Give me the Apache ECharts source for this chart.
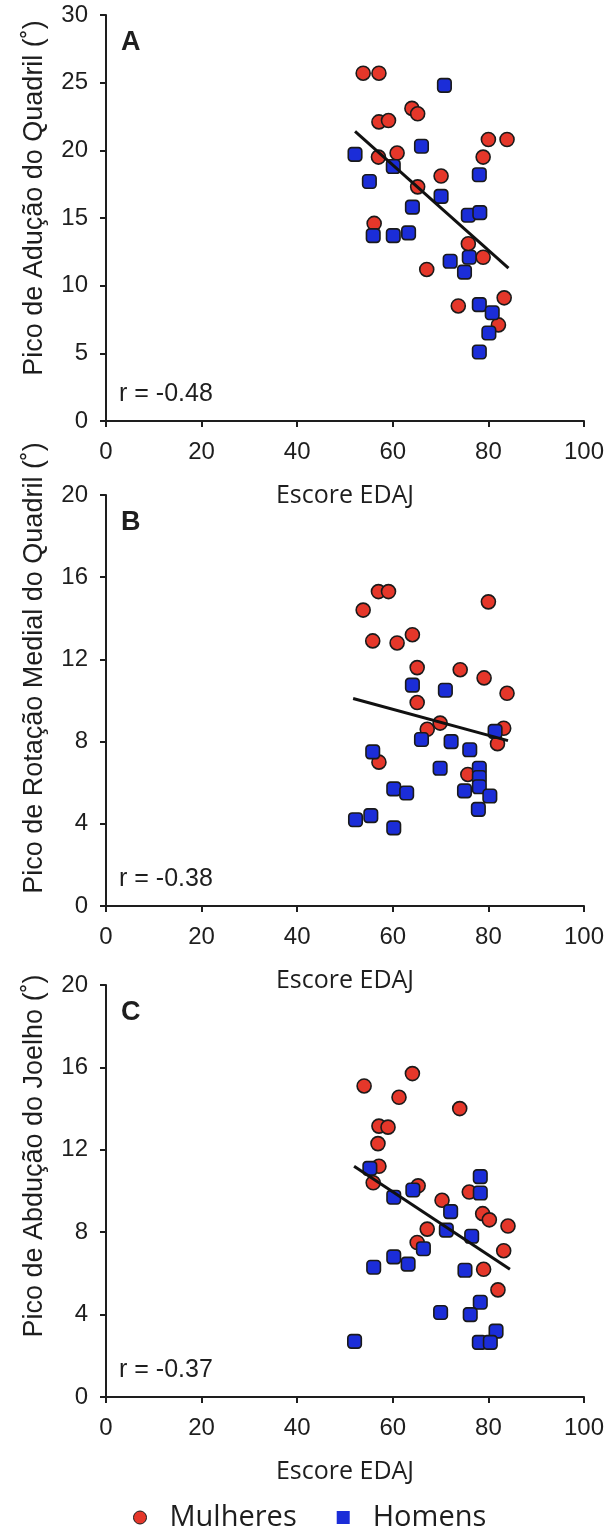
<!DOCTYPE html>
<html>
<head>
<meta charset="utf-8">
<script src="https://cdn.jsdelivr.net/npm/echarts@6/dist/echarts.min.js"></script>
<style>
  html, body { margin: 0; padding: 0; background: #ffffff; }
  #chart { width: 608px; height: 1533px; }
</style>
</head>
<body>
<div id="chart"></div>
<script>
// ---- data ----
const xTicks = [0, 20, 40, 60, 80, 100];
const yTicksA = [0, 5, 10, 15, 20, 25, 30];
const yTicksB = [0, 4, 8, 12, 16, 20];
const yTicksC = [0, 4, 8, 12, 16, 20];

const seriesNames = ['Mulheres', 'Homens'];
const panelLetters = ['A', 'B', 'C'];
const rLabels = ['r = -0.48', 'r = -0.38', 'r = -0.37'];
const yTitles = ['Pico de Adução do Quadril (˚)', 'Pico de Rotação Medial do Quadril (˚)', 'Pico de Abdução do Joelho (˚)'];
const xTitle = 'Escore EDAJ';

const womenA = [[53.8,25.7],[57.1,25.7],[57.1,22.1],[59.1,22.2],[64.0,23.1],[65.2,22.7],[80.0,20.8],[83.9,20.8],[57.0,19.5],[60.9,19.8],[78.9,19.5],[70.1,18.1],[65.2,17.3],[56.1,14.6],[75.8,13.1],[78.9,12.1],[67.1,11.2],[73.7,8.5],[83.3,9.1],[82.1,7.1]];
const menA = [[70.8,24.8],[66.0,20.3],[52.1,19.7],[60.1,18.8],[55.1,17.7],[78.1,18.2],[70.1,16.6],[64.1,15.8],[75.8,15.2],[78.2,15.4],[55.9,13.7],[60.1,13.7],[63.3,13.9],[72.0,11.8],[76.0,12.1],[75.0,11.0],[78.1,8.6],[80.8,8.0],[80.1,6.5],[78.1,5.1]];
const trendA = [[52.1,21.4],[84.2,11.3]];

const womenB = [[57.0,15.3],[59.1,15.3],[53.8,14.4],[80.0,14.8],[55.8,12.9],[60.9,12.8],[64.1,13.2],[65.1,11.6],[74.1,11.5],[79.1,11.1],[83.9,10.35],[65.1,9.9],[69.9,8.9],[67.2,8.6],[83.2,8.65],[81.9,7.9],[57.1,7.0],[75.7,6.4]];
const menB = [[64.1,10.75],[71.0,10.5],[81.4,8.5],[66.0,8.1],[72.2,8.0],[76.1,7.6],[55.8,7.5],[69.9,6.7],[78.1,6.7],[78.1,6.25],[78.1,5.8],[75.0,5.6],[80.3,5.35],[60.2,5.7],[62.9,5.5],[77.9,4.7],[55.4,4.4],[52.2,4.2],[60.2,3.8]];
const trendB = [[51.7,10.1],[84.1,8.05]];

const womenC = [[64.1,15.7],[54.0,15.1],[61.3,14.55],[74.0,14.0],[57.1,13.15],[59.0,13.1],[56.9,12.3],[57.1,11.2],[55.9,10.4],[65.3,10.25],[76.0,9.95],[70.3,9.55],[78.8,8.9],[80.2,8.6],[84.1,8.3],[67.2,8.15],[65.1,7.5],[83.2,7.1],[79.0,6.2],[82.0,5.2]];
const menC = [[55.2,11.1],[78.3,10.7],[78.3,9.9],[64.2,10.05],[60.2,9.7],[72.1,9.0],[71.2,8.1],[76.5,7.8],[66.4,7.2],[60.2,6.8],[63.2,6.45],[56.0,6.3],[75.1,6.15],[78.3,4.6],[70.0,4.1],[76.2,4.0],[81.6,3.2],[52.0,2.7],[78.1,2.65],[80.4,2.65]];
const trendC = [[51.9,11.2],[84.5,6.2]];

// ---- layout / style ----
const RED = '#E5372A';
const BLUE = '#1B2DD8';
const INK = '#1e1e1e';
const grids = [
  { left: 106, top: 15, width: 478, height: 406 },
  { left: 106, top: 495, width: 478, height: 411 },
  { left: 106, top: 985, width: 478, height: 412 }
];
const yTickSets = [yTicksA, yTicksB, yTicksC];
const women = [womenA, womenB, womenC];
const men = [menA, menB, menC];
const trends = [trendA, trendB, trendC];
const yTitleCenters = [198, 668, 1156];

const axisCommon = {
  axisLine: { show: true, lineStyle: { color: INK, width: 2 } },
  axisTick: { show: true, inside: false, length: 6, lineStyle: { color: INK, width: 2 } },
  splitLine: { show: false },
  axisLabel: { color: INK, fontFamily: 'Liberation Sans, Arial, sans-serif', fontSize: 24, margin: 19, showMinLabel: true, showMaxLabel: true }
};

const xAxes = grids.map((g, i) => Object.assign({}, axisCommon, {
  type: 'value', gridIndex: i,
  min: xTicks[0], max: xTicks[xTicks.length - 1], interval: xTicks[1] - xTicks[0],
  name: xTitle, nameLocation: 'middle', nameGap: 62,
  nameTextStyle: { color: INK, fontFamily: 'Open Sans, sans-serif', fontSize: 25 }
}));
const yAxes = grids.map((g, i) => Object.assign({}, axisCommon, {
  type: 'value', gridIndex: i,
  min: yTickSets[i][0], max: yTickSets[i][yTickSets[i].length - 1], interval: yTickSets[i][1] - yTickSets[i][0],
  axisLabel: Object.assign({}, axisCommon.axisLabel, { margin: 18 })
}));

const series = [];
for (let i = 0; i < 3; i++) {
  series.push({
    name: seriesNames[0], type: 'scatter', xAxisIndex: i, yAxisIndex: i,
    symbol: 'circle', symbolSize: 14, data: women[i], z: 2,
    itemStyle: { color: RED, borderColor: '#1a1a1a', borderWidth: 1.6, opacity: 1 },
    emphasis: { disabled: true }
  });
  series.push({
    name: seriesNames[1], type: 'scatter', xAxisIndex: i, yAxisIndex: i,
    symbol: 'roundRect', symbolSize: 13.5, data: men[i], z: 3,
    itemStyle: { color: BLUE, borderColor: '#1a1a1a', borderWidth: 1.6, opacity: 1 },
    emphasis: { disabled: true }
  });
  series.push({
    name: 'trend' + i, type: 'line', xAxisIndex: i, yAxisIndex: i,
    data: trends[i], symbol: 'none', z: 4, silent: true,
    lineStyle: { color: '#111111', width: 3 }
  });
}

const graphics = [];
for (let i = 0; i < 3; i++) {
  const g = grids[i];
  graphics.push({
    type: 'text', x: 121, y: g.top + 28, silent: true,
    style: { text: panelLetters[i], fill: INK, font: 'bold 27px "Liberation Sans", Arial, sans-serif', align: 'left', verticalAlign: 'middle' }
  });
  graphics.push({
    type: 'text', x: 119, y: g.top + g.height - 27, silent: true,
    style: { text: rLabels[i], fill: INK, font: '25px "Liberation Sans", Arial, sans-serif', align: 'left', verticalAlign: 'middle' }
  });
  graphics.push({
    type: 'text', x: 35, y: yTitleCenters[i], rotation: Math.PI / 2, silent: true,
    style: { text: yTitles[i], fill: INK, font: '27px "Liberation Sans", Arial, sans-serif', align: 'center', verticalAlign: 'middle' }
  });
}

const chart = echarts.init(document.getElementById('chart'), null, { renderer: 'canvas' });
chart.setOption({
  backgroundColor: '#ffffff',
  animation: false,
  grid: grids,
  xAxis: xAxes,
  yAxis: yAxes,
  legend: {
    data: [
      { name: seriesNames[0], icon: 'circle', itemStyle: { color: RED, borderColor: '#1a1a1a', borderWidth: 1 } },
      { name: seriesNames[1], icon: 'rect', itemStyle: { color: BLUE, borderColor: BLUE, borderWidth: 0 } }
    ],
    left: 128, top: 1498, itemWidth: 13, itemHeight: 13, itemGap: 40,
    selectedMode: false,
    textStyle: { color: INK, fontFamily: 'Open Sans, sans-serif', fontSize: 29, padding: [0, 0, 0, 18] }
  },
  graphic: graphics,
  series: series
});
</script>
</body>
</html>
